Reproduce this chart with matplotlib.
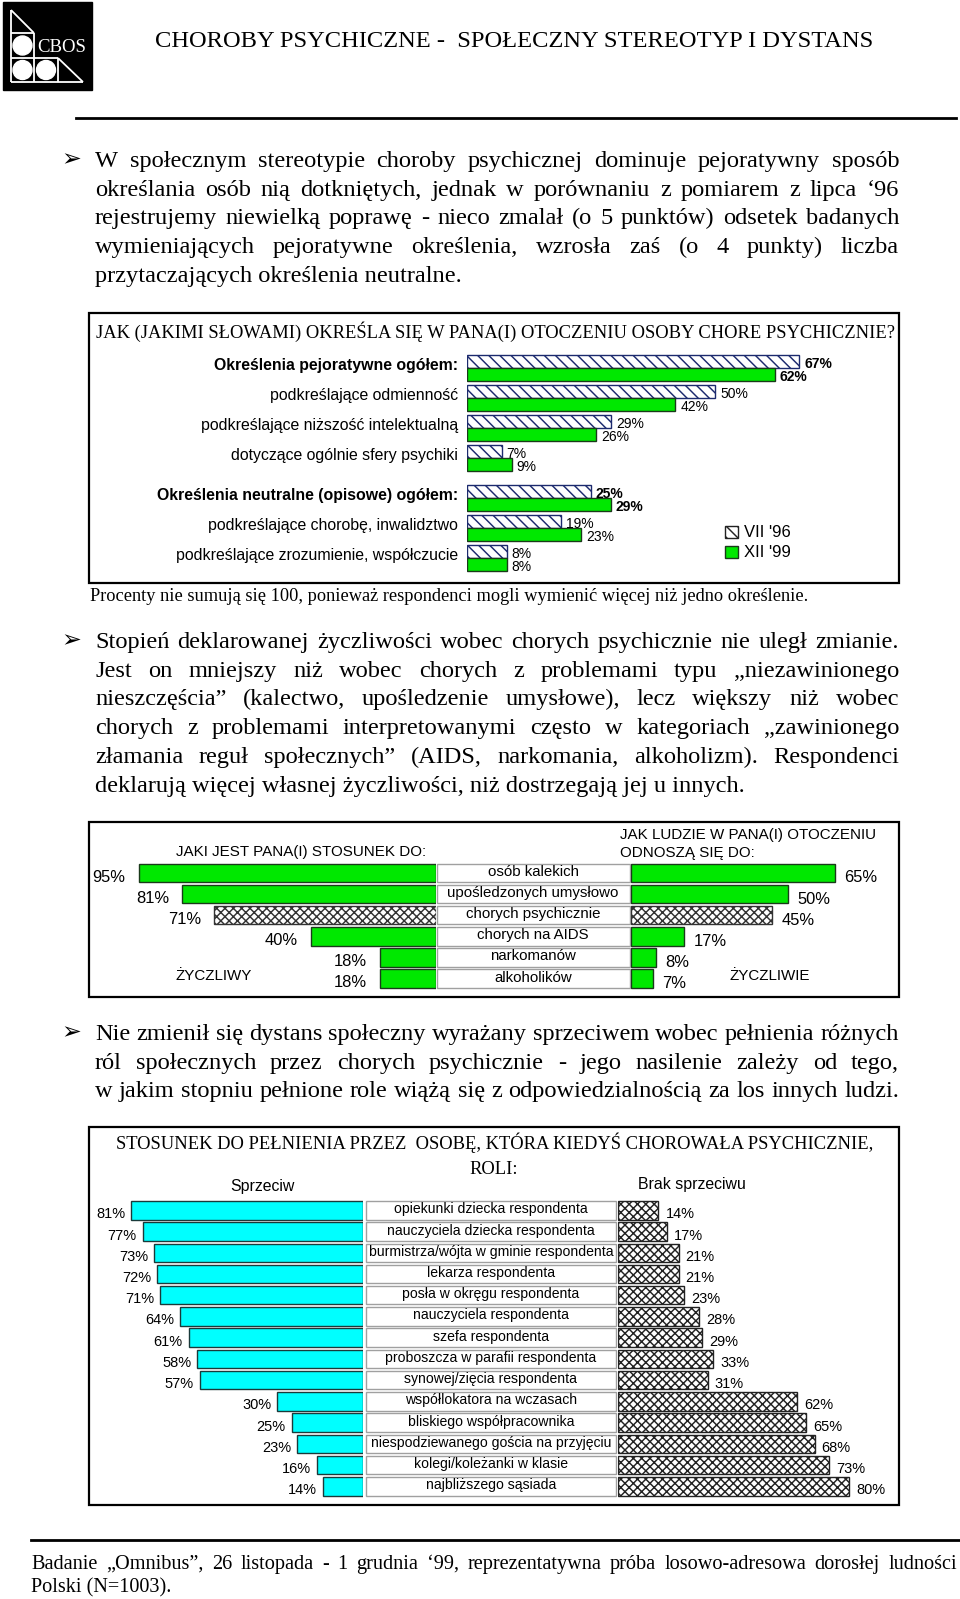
import matplotlib
matplotlib.use('Agg')
import matplotlib.pyplot as plt
from matplotlib.patches import Rectangle, Circle

# ---------------- data ----------------
cats1 = ["Określenia pejoratywne ogółem:", "podkreślające odmienność",
         "podkreślające niższość intelektualną", "dotyczące ogólnie sfery psychiki",
         "Określenia neutralne (opisowe) ogółem:", "podkreślające chorobę, inwalidztwo",
         "podkreślające zrozumienie, współczucie"]
v96 = [67, 50, 29, 7, 25, 19, 8]
v99 = [62, 42, 26, 9, 29, 23, 8]
bold1 = [True, False, False, False, True, False, False]
legend1 = ["VII '96", "XII '99"]

cats2 = ["osób kalekich", "upośledzonych umysłowo", "chorych psychicznie",
         "chorych na AIDS", "narkomanów", "alkoholików"]
own2 = [95, 81, 71, 40, 18, 18]
others2 = [65, 50, 45, 17, 8, 7]

cats3 = ["opiekunki dziecka respondenta", "nauczyciela dziecka respondenta",
         "burmistrza/wójta w gminie respondenta", "lekarza respondenta",
         "posła w okręgu respondenta", "nauczyciela respondenta", "szefa respondenta",
         "proboszcza w parafii respondenta", "synowej/zięcia respondenta",
         "współlokatora na wczasach", "bliskiego współpracownika",
         "niespodziewanego gościa na przyjęciu", "kolegi/koleżanki w klasie",
         "najbliższego sąsiada"]
sprz3 = [81, 77, 73, 72, 71, 64, 61, 58, 57, 30, 25, 23, 16, 14]
brak3 = [14, 17, 21, 21, 23, 28, 29, 33, 31, 62, 65, 68, 73, 80]

para1 = ["W społecznym stereotypie choroby psychicznej dominuje pejoratywny sposób",
         "określania osób nią dotkniętych, jednak w porównaniu z pomiarem z lipca ‘96",
         "rejestrujemy niewielką poprawę - nieco zmalał (o 5 punktów) odsetek badanych",
         "wymieniających pejoratywne określenia, wzrosła zaś (o 4 punkty) liczba",
         "przytaczających określenia neutralne."]
para2 = ["Stopień deklarowanej życzliwości wobec chorych psychicznie nie uległ zmianie.",
         "Jest on mniejszy niż wobec chorych z problemami typu „niezawinionego",
         "nieszczęścia” (kalectwo, upośledzenie umysłowe), lecz większy niż wobec",
         "chorych z problemami interpretowanymi często w kategoriach „zawinionego",
         "złamania reguł społecznych” (AIDS, narkomania, alkoholizm). Respondenci",
         "deklarują więcej własnej życzliwości, niż dostrzegają jej u innych."]
para3 = ["Nie zmienił się dystans społeczny wyrażany sprzeciwem wobec pełnienia różnych",
         "ról społecznych przez chorych psychicznie - jego nasilenie zależy od tego,",
         "w jakim stopniu pełnione role wiążą się z odpowiedzialnością za los innych ludzi."]
footer = ["Badanie „Omnibus”, 26 listopada - 1 grudnia ‘99, reprezentatywna próba losowo-adresowa dorosłej ludności",
          "Polski (N=1003)."]

# ---------------- page ----------------
W, H = 960, 1599
plt.rcParams['hatch.linewidth'] = 1.05
fig = plt.figure(figsize=(W / 100, H / 100), dpi=100)
fig.patch.set_facecolor('white')
page = fig.add_axes([0, 0, 1, 1])
page.set_xlim(0, W)
page.set_ylim(H, 0)
page.axis('off')
renderer = fig.canvas.get_renderer()

SERIF = 'Liberation Serif'
SANS = 'Liberation Sans'


def text_width(s, size, family, weight='normal'):
    t = page.text(0, 0, s, fontsize=size, family=family, fontweight=weight)
    w = t.get_window_extent(renderer).width
    t.remove()
    return w


def fit_size(s, width, family, weight='normal'):
    return 10.0 * width / text_width(s, 10.0, family, weight)


def put(x, cy, s, size, family, ha='left', weight='normal', color='k'):
    page.text(x, cy + 0.33 * size * 100 / 72, s, fontsize=size, family=family,
              ha=ha, va='baseline', fontweight=weight, color=color)


def justify(line, x0, x1, cy, size, family, just=True):
    if not just:
        put(x0, cy, line, size, family)
        return
    words = line.split(' ')
    widths = [text_width(w, size, family) for w in words]
    gap = (x1 - x0 - sum(widths)) / max(len(words) - 1, 1)
    x = x0
    for w, wd in zip(words, widths):
        put(x, cy, w, size, family)
        x += wd + gap


# ---------------- header ----------------
page.add_patch(Rectangle((3, 2), 89, 88, facecolor='black', edgecolor='black'))
lw_logo = 1.3
for (xa, ya, xb, yb) in [(11, 10, 11, 82), (11, 10, 34, 33), (11, 33, 34, 33),
                         (11, 58, 58, 58), (34, 33, 34, 82), (58, 58, 58, 82),
                         (58, 58, 83, 82), (11, 82, 83, 82)]:
    page.plot([xa, xb], [ya, yb], color='white', lw=lw_logo, solid_capstyle='butt')
for (cx, cy) in [(22.5, 45.5), (22.5, 70), (46, 70)]:
    page.add_patch(Circle((cx, cy), 9.5, facecolor='white', edgecolor='white'))
put(37, 46, "CBOS", fit_size("CBOS", 49, SERIF), SERIF, color='white')

title = "CHOROBY PSYCHICZNE -  SPOŁECZNY STEREOTYP I DYSTANS"
put(155, 39, title, fit_size(title, 720, SERIF), SERIF)
page.plot([76, 956], [118, 118], color='black', lw=2)

# ---------------- paragraphs ----------------
psize = fit_size(para2[-1], 649, SERIF)
bsize = 17
pitch_t = 28.7
for i, line in enumerate(para1):
    justify(line, 95, 899, 159 + pitch_t * i, psize, SERIF, just=(i < len(para1) - 1))
put(61, 158, "➢", bsize, 'DejaVu Sans')
for i, line in enumerate(para2):
    justify(line, 95, 899, 640 + pitch_t * i, psize, SERIF, just=(i < len(para2) - 1))
put(61, 639, "➢", bsize, 'DejaVu Sans')
for i, line in enumerate(para3):
    justify(line, 95, 899, 1032 + pitch_t * i, psize, SERIF, just=True)
put(61, 1031, "➢", bsize, 'DejaVu Sans')


def chart_axes(x0, x1, ytop, ybot, xlim, c0, pitch):
    ax = fig.add_axes([x0 / W, 1 - ybot / H, (x1 - x0) / W, (ybot - ytop) / H])
    ax.set_xlim(*xlim)
    ax.set_ylim((ybot - c0) / pitch, (ytop - c0) / pitch)
    ax.axis('off')
    return ax


# ---------------- chart 1 ----------------
page.add_patch(Rectangle((89, 313), 810, 270, fill=False, edgecolor='black', lw=1.6))
t1 = "JAK (JAKIMI SŁOWAMI) OKREŚLA SIĘ W PANA(I) OTOCZENIU OSOBY CHORE PSYCHICZNIE?"
put(96, 332, t1, fit_size(t1, 795, SERIF), SERIF)
note = "Procenty nie sumują się 100, ponieważ respondenci mogli wymienić więcej niż jedno określenie."
put(90, 595, note, fit_size(note, 712, SERIF), SERIF)

GREEN = '#00e800'
NAVY = '#1c2a6e'
c1_pitch = 30.0
pos1 = [i + (1.0 / 3 if i >= 4 else 0) for i in range(len(cats1))]
ax1 = chart_axes(467, 899, 340, 580, (0, 432 / 4.96), 368, c1_pitch)
h1 = 13 / c1_pitch
ax1.barh([p - h1 / 2 for p in pos1], v96, height=h1, color='white', edgecolor=NAVY,
         hatch='\\\\\\', lw=1.0)
ax1.barh([p + h1 / 2 for p in pos1], v99, height=h1, color=GREEN, edgecolor='#1a3a1a', lw=1.0)
lsize1 = fit_size(cats1[-1], 282, SANS)
vsize1 = fit_size("50%", 28, SANS)
for p, c, b, a, bb in zip(pos1, cats1, bold1, v96, v99):
    wt = 'bold' if b else 'normal'
    ax1.annotate(c, xy=(0, p), xytext=(-9, 2), textcoords='offset pixels', ha='right',
                 va='center', fontsize=lsize1, family=SANS, fontweight=wt, annotation_clip=False)
    ax1.annotate(f"{a}%", xy=(a, p - h1 / 2), xytext=(5, -3), textcoords='offset pixels',
                 ha='left', va='center', fontsize=vsize1, family=SANS, fontweight=wt,
                 annotation_clip=False)
    ax1.annotate(f"{bb}%", xy=(bb, p + h1 / 2), xytext=(5, -3), textcoords='offset pixels',
                 ha='left', va='center', fontsize=vsize1, family=SANS, fontweight=wt,
                 annotation_clip=False)
page.add_patch(Rectangle((725, 526), 13, 12, facecolor='white', edgecolor='#222222',
                         hatch='\\\\\\', lw=1.0))
page.add_patch(Rectangle((725, 546), 13, 12, facecolor=GREEN, edgecolor='#1a3a1a', lw=1.0))
put(744, 532, legend1[0], lsize1 * 1.05, SANS)
put(744, 552, legend1[1], lsize1 * 1.05, SANS)

# ---------------- chart 2 ----------------
page.add_patch(Rectangle((89, 822), 810, 175, fill=False, edgecolor='black', lw=1.6))
c2_c0, c2_pitch, c2_h = 873, 21.1, 18.5
ax2l = chart_axes(100, 436, 855, 995, (336 / 3.13, 0), c2_c0, c2_pitch)
ax2r = chart_axes(631, 899, 855, 995, (0, 268 / 3.14), c2_c0, c2_pitch)
h2 = c2_h / c2_pitch
hatch_row2 = cats2.index("chorych psychicznie")
fc2 = ['white' if i == hatch_row2 else GREEN for i in range(len(cats2))]
hat2 = ['xxxx' if i == hatch_row2 else None for i in range(len(cats2))]
ec2 = ['#333333' if i == hatch_row2 else '#1a3a1a' for i in range(len(cats2))]
y2 = list(range(len(cats2)))
for ax, vals in [(ax2l, own2), (ax2r, others2)]:
    bars = ax.barh(y2, vals, height=h2, color=fc2, edgecolor=ec2, lw=1.0)
    for b, hh in zip(bars, hat2):
        if hh:
            b.set_hatch(hh)
csize2 = fit_size("upośledzonych umysłowo", 172, SANS)
vsize2 = fit_size("95%", 33, SANS)
for i, (c, a, b) in enumerate(zip(cats2, own2, others2)):
    cy = c2_c0 + c2_pitch * i
    page.add_patch(Rectangle((437, cy - c2_h / 2), 193, c2_h, facecolor='white',
                             edgecolor='#a0a0a0', lw=1.0))
    page.text(533, cy - 1, c, ha='center', va='center', fontsize=csize2, family=SANS)
    ax2l.annotate(f"{a}%", xy=(a, i), xytext=(-13, -4), textcoords='offset pixels',
                  ha='right', va='center', fontsize=vsize2, family=SANS, annotation_clip=False)
    ax2r.annotate(f"{b}%", xy=(b, i), xytext=(9, -5), textcoords='offset pixels',
                  ha='left', va='center', fontsize=vsize2, family=SANS, annotation_clip=False)
hsize2 = fit_size("JAKI JEST PANA(I) STOSUNEK DO:", 249, SANS)
put(176, 851, "JAKI JEST PANA(I) STOSUNEK DO:", hsize2, SANS)
put(620, 834, "JAK LUDZIE W PANA(I) OTOCZENIU", hsize2, SANS)
put(620, 852, "ODNOSZĄ SIĘ DO:", hsize2, SANS)
put(175, 975, "ŻYCZLIWY", hsize2, SANS)
put(730, 975, "ŻYCZLIWIE", hsize2, SANS)

# ---------------- chart 3 ----------------
page.add_patch(Rectangle((89, 1127), 810, 378, fill=False, edgecolor='black', lw=1.6))
t3 = "STOSUNEK DO PEŁNIENIA PRZEZ  OSOBĘ, KTÓRA KIEDYŚ CHOROWAŁA PSYCHICZNIE,"
s3 = fit_size(t3, 758, SERIF)
put(116, 1143, t3, s3, SERIF)
put(494, 1168, "ROLI:", s3, SERIF, ha='center')
c3_c0, c3_pitch, c3_h = 1210.3, 21.23, 18.5
ax3l = chart_axes(100, 363, 1195, 1500, (263 / 2.86, 0), c3_c0, c3_pitch)
ax3r = chart_axes(618, 899, 1195, 1500, (0, 281 / 2.89), c3_c0, c3_pitch)
h3 = c3_h / c3_pitch
y3 = list(range(len(cats3)))
ax3l.barh(y3, sprz3, height=h3, color='#00ffff', edgecolor='#1a3a3a', lw=1.0)
ax3r.barh(y3, brak3, height=h3, color='white', edgecolor='#222222', hatch='xxxx', lw=1.0)
csize3 = fit_size("burmistrza/wójta w gminie respondenta", 244, SANS)
vsize3 = fit_size("81%", 29, SANS)
for i, (c, a, b) in enumerate(zip(cats3, sprz3, brak3)):
    cy = c3_c0 + c3_pitch * i
    page.add_patch(Rectangle((366, cy - c3_h / 2), 250, c3_h, facecolor='white',
                             edgecolor='#a0a0a0', lw=1.0))
    page.text(491, cy - 1, c, ha='center', va='center', fontsize=csize3, family=SANS)
    ax3l.annotate(f"{a}%", xy=(a, i), xytext=(-6, -4), textcoords='offset pixels',
                  ha='right', va='center', fontsize=vsize3, family=SANS, annotation_clip=False)
    ax3r.annotate(f"{b}%", xy=(b, i), xytext=(7, -4), textcoords='offset pixels',
                  ha='left', va='center', fontsize=vsize3, family=SANS, annotation_clip=False)
hs3 = fit_size("Brak sprzeciwu", 108, SANS)
put(262, 1186, "Sprzeciw", hs3, SANS, ha='center')
put(692, 1184, "Brak sprzeciwu", hs3, SANS, ha='center')

# ---------------- footer ----------------
page.plot([31, 960], [1540, 1540], color='black', lw=2)
fsize = fit_size(footer[1], 141, SERIF)
justify(footer[0], 31, 957, 1562, fsize, SERIF, just=True)
put(31, 1586, footer[1], fsize, SERIF)

fig.savefig('out.png', dpi=100, facecolor='white')
